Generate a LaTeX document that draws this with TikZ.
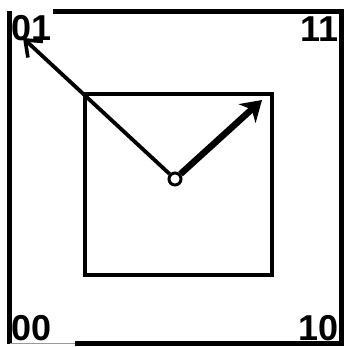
\documentclass[tikz,border=0pt]{standalone}
\usepackage{fontspec}
\setmainfont{Liberation Sans}[BoldFont={Liberation Sans Bold}]
\usetikzlibrary{arrows.meta}
\begin{document}
\begin{tikzpicture}[x=1pt,y=-1pt,
  lbl/.style={font=\bfseries\fontsize{36}{36}\selectfont, inner sep=0pt},
  frame/.style={line width=4.2pt},
  box/.style={line width=4pt}]
\useasboundingbox (0,0) rectangle (346,347);
% outer frame
\draw[frame] (53,11.5) -- (341.5,11.5) -- (341.5,343.5) -- (75,343.5);
\draw[frame] (9.5,11.5) -- (9.5,343.5);
\draw[line width=0.8pt, black!40] (9.5,343.5) -- (75,343.5);
% inner square
\draw[box] (85,94.5) rectangle (271.5,274.5);
% labels
\node[lbl, anchor=base west] (l01) at (11,41) {01};
\node[lbl, anchor=base east] (l11) at (339,42) {11};
\node[lbl, anchor=base west] (l00) at (11,340) {00};
\node[lbl, anchor=base east] (l10) at (339,340) {10};
% pivot
\node[circle, draw, line width=3pt, minimum size=12pt, inner sep=0pt] (c) at (175,179) {};
\coordinate (t1) at (23,38);
\coordinate (t2) at (262,100);
\draw[line width=3.8pt, -{Straight Barb[length=14pt,width=22pt,line width=3.6pt]}] (c) -- (t1);
\draw[line width=6.5pt, -{Stealth[length=20pt,width=25pt,inset=6pt]}] (c) -- (t2);
\end{tikzpicture}
\end{document}
